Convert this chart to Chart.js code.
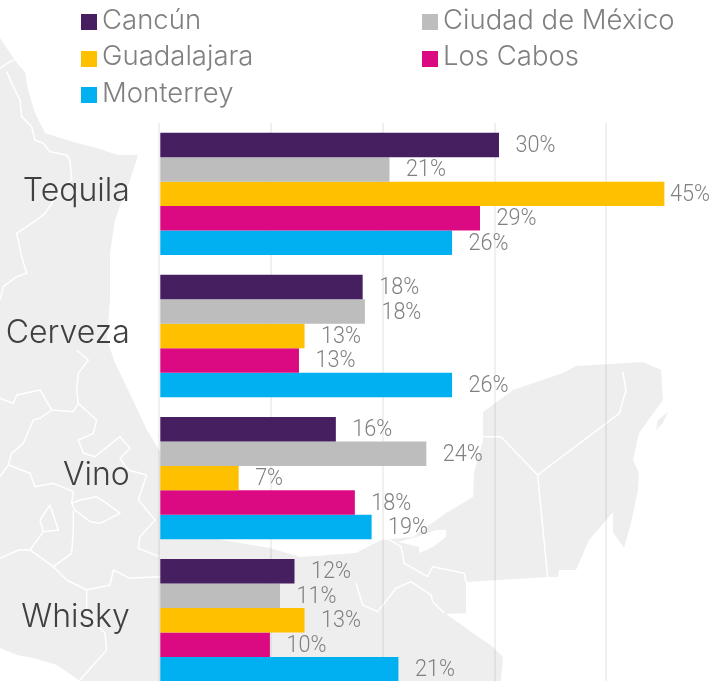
<!DOCTYPE html>
<html>
<head>
<meta charset="utf-8">
<title>Bebidas por ciudad</title>
<script src="https://cdn.jsdelivr.net/npm/chart.js@4"></script>
<style>
  html, body { margin: 0; padding: 0; background: #fff; overflow: hidden; }
  #stage { position: relative; width: 712px; height: 681px; overflow: hidden; }
  #map { position: absolute; left: 0; top: 0; }
  #barChart { position: absolute; left: 0; top: 0; }
  #legend {
    position: absolute; left: 81px; top: 0.5px;
    display: grid; grid-template-columns: 341px 280px; grid-auto-rows: 36.5px;
    font: 300 27.5px Inter, sans-serif; color: #808080;
  }
  #legend .item { display: flex; align-items: center; white-space: nowrap; }
  #legend .box { width: 16px; height: 16px; margin-right: 5px; margin-top: 6.5px; }
</style>
</head>
<body>
<div id="stage">
  <!-- background map, only decoration -->
  <svg id="map" width="712" height="681" viewBox="0 0 712 681">
    <path fill="#eeeeee" d="M0 38 L8 50 17 63 25 72 28 90 35 113 45 133 73 142 97 148 118 155 138 155 130 180 122 200 115 220 110 253 110 300 107 340 115 363 132 398 147 430 158 448 187 507 217 539 240 543 270 548 300 557 356 553 381 540 413 537 446 513 473 497 474 473 483 440 483 412 513 390 563 373 576 366 643 362 661 370 663 400 639 433 633 460 639 473 638 490 631 523 624 548 613 532 613 512 589 540 576 570 559 570 558 577 548 577 466 582 466 613 446 614 473 633 493 647 503 657 501 681 80 681 57 665 33 658 17 655 0 648 Z"/>
    <path fill="#eeeeee" d="M656 430 L658 420 668 412 663 423 Z"/>
    <path fill="#fff" d="M398 542 L416 537 436 530 446 530 446 537 433 547 419 553 419 547 Z"/>
    <g fill="none" stroke="#fff" stroke-linejoin="round" stroke-width="4.5">
      <g transform="scale(0.3333)">
        <path d="M20 215 L40 260 60 300 65 350 95 380 105 420 130 430 150 455 200 465 210 480 215 540 190 560 135 640 110 660 50 700 65 770 80 820 50 830 10 860 0 900"/>
        <path d="M0 205 L30 185 45 180"/>
      </g>
      <g transform="translate(0,340) scale(0.3333)">
        <path d="M230 30 L265 60 235 100 230 150 235 190 290 240 280 280 235 300 250 340 285 350 360 290 390 325 360 355 385 390 440 405 415 480 465 540 420 590 415 625 478 650"/>
        <path d="M0 175 L40 190 50 165 120 150 155 210 220 215 235 190"/>
        <path d="M155 210 L120 235 100 240 70 310 35 340 25 375 0 410"/>
        <path d="M25 375 L90 400 105 440 160 430 220 455 215 490 225 510 270 545 300 550 360 520 320 490 290 470 240 480 215 490"/>
        <path d="M220 510 L220 570 215 640 160 680 90 630 55 630 0 655"/>
        <path d="M150 495 L120 540 130 575 175 570 Z"/>
        <path d="M130 575 L90 630"/>
        <path d="M160 680 L200 720 260 750 260 820 315 880 320 930 240 1020"/>
        <path d="M260 750 L330 735 340 690 390 715 478 710 620 720"/>
      </g>
      <g transform="translate(356,340) scale(0.3333)">
        <path d="M380 290 L435 290 545 405 790 220 810 150 800 95"/>
        <path d="M545 405 L575 712"/>
        <path d="M85 590 L135 620 145 670 215 710 230 680 325 700 330 727"/>
        <path d="M0 730 L20 795 65 815 120 745 165 725 225 765 230 785 265 820"/>
      </g>
    </g>
  </svg>
  <canvas id="barChart" width="730" height="740" style="width:730px;height:740px"></canvas>
  <div id="legend"></div>
</div>
<script>
const categories = ['Tequila', 'Cerveza', 'Vino', 'Whisky'];
const cities = ['Cancún', 'Ciudad de México', 'Guadalajara', 'Los Cabos', 'Monterrey'];
const cityColors = ['#451F5F', '#BDBDBD', '#FFC000', '#DC0A82', '#00B0F0'];

// bar lengths, rounded they give the printed labels
const cancun = [30.4, 18.2, 15.8, 12.1];
const ciudadMexico = [20.6, 18.4, 23.9, 10.8];
const guadalajara = [45.2, 13.0, 7.1, 13.0];
const losCabos = [28.7, 12.5, 17.5, 9.9];
const monterrey = [26.2, 26.2, 19.0, 21.4];
const seriesValues = [cancun, ciudadMexico, guadalajara, losCabos, monterrey];

const xTicksStep = 10;
const xMax = 50;

// legend
const legendEl = document.getElementById('legend');
cities.forEach((city, i) => {
  const item = document.createElement('div');
  item.className = 'item';
  item.innerHTML = `<span class="box" style="background:${cityColors[i]}"></span>${city}`;
  legendEl.appendChild(item);
});

// writes the % next to each bar, squeezed because no narrow font is installed
const valueLabels = {
  id: 'valueLabels',
  afterDatasetsDraw(chart) {
    const ctx = chart.ctx;
    chart.data.datasets.forEach((ds, i) => {
      chart.getDatasetMeta(i).data.forEach((bar, j) => {
        // the longest bar leaves no room, so the label is pulled in
        const x = Math.min(bar.x + 16.5, 670);
        ctx.save();
        ctx.font = '300 24px Roboto, sans-serif';
        ctx.fillStyle = '#808080';
        ctx.textAlign = 'left';
        ctx.textBaseline = 'middle';
        ctx.translate(x, bar.y + 1);
        ctx.scale(0.9, 1);
        ctx.fillText(Math.round(ds.data[j]) + '%', 0, 0);
        ctx.restore();
      });
    });
  }
};

new Chart(document.getElementById('barChart').getContext('2d'), {
  type: 'bar',
  data: {
    labels: categories,
    datasets: cities.map((city, i) => ({
      label: city,
      data: seriesValues[i],
      backgroundColor: cityColors[i],
      categoryPercentage: 0.861,
      barPercentage: 1
    }))
  },
  plugins: [valueLabels],
  options: {
    indexAxis: 'y',
    responsive: false,
    animation: false,
    devicePixelRatio: 1,
    layout: { padding: { top: 122.8, bottom: 10, right: 12 } },
    plugins: {
      legend: { display: false },
      tooltip: { enabled: false }
    },
    scales: {
      x: {
        min: 0,
        max: xMax,
        ticks: { display: false, stepSize: xTicksStep },
        grid: { color: 'rgba(0,0,0,0.06)', lineWidth: 2, drawTicks: false },
        border: { display: false }
      },
      y: {
        afterFit(scale) { scale.width = 159.3; },
        ticks: {
          color: '#404040',
          padding: 29.5,
          labelOffset: -2.5,
          font: { family: 'Inter', size: 32, weight: '300' }
        },
        grid: { display: false, drawTicks: false },
        border: { display: false }
      }
    }
  }
});
</script>
</body>
</html>
